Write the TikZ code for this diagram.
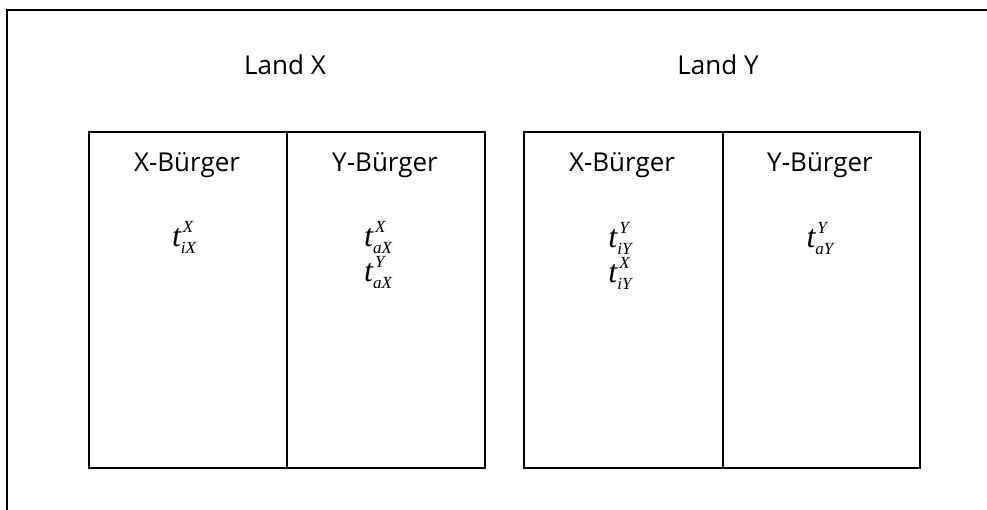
\documentclass[tikz,border=0pt]{standalone}
\usepackage{fontspec}
\setmainfont{Open Sans}
\newfontfamily\tnr{Liberation Serif}
\newcommand\tsy[2]{{\tnr\itshape\fontsize{32}{32}\selectfont t\fontsize{17}{17}\selectfont\rlap{\hspace{2pt}\raisebox{14pt}{#1}}\raisebox{-7pt}{#2}}}
\begin{document}
\begin{tikzpicture}[x=1pt,y=-1pt,
  frame/.style={line width=2pt},
  lbl/.style={anchor=base,font=\fontsize{26}{26}\selectfont,inner sep=0pt},
  sym/.style={anchor=base,inner sep=0pt}]
\useasboundingbox (0,0) rectangle (987,510);
\coordinate (fa) at (7,512);
\coordinate (fb) at (7,10);
\coordinate (fc) at (989,10);
\draw[frame] (fa) -- (fb) -- (fc);
% boxes
\node[frame,draw,minimum width=198,minimum height=336,inner sep=0pt,anchor=north west] (xa) at (88,131) {};
\node[frame,draw,minimum width=198,minimum height=336,inner sep=0pt,anchor=north west] (xb) at (286,131) {};
\node[frame,draw,minimum width=199,minimum height=336,inner sep=0pt,anchor=north west] (ya) at (523,131) {};
\node[frame,draw,minimum width=197,minimum height=336,inner sep=0pt,anchor=north west] (yb) at (722,131) {};
% titles
\node[lbl] (lx) at (285,75) {Land X};
\node[lbl] (ly) at (718,75) {Land Y};
\node[lbl] (h1) at (187,172) {X-Bürger};
\node[lbl] (h2) at (385,172) {Y-Bürger};
\node[lbl] (h3) at (622,172) {X-Bürger};
\node[lbl] (h4) at (820,172) {Y-Bürger};
% symbols
\node[sym] (s1) at (184,247) {\tsy{X}{iX}};
\node[sym] (s2) at (378,247) {\tsy{X}{aX}};
\node[sym] (s3) at (378,282) {\tsy{Y}{aX}};
\node[sym] (s4) at (620,248) {\tsy{Y}{iY}};
\node[sym] (s5) at (620,283) {\tsy{X}{iY}};
\node[sym] (s6) at (820,248) {\tsy{Y}{aY}};
\end{tikzpicture}
\end{document}
